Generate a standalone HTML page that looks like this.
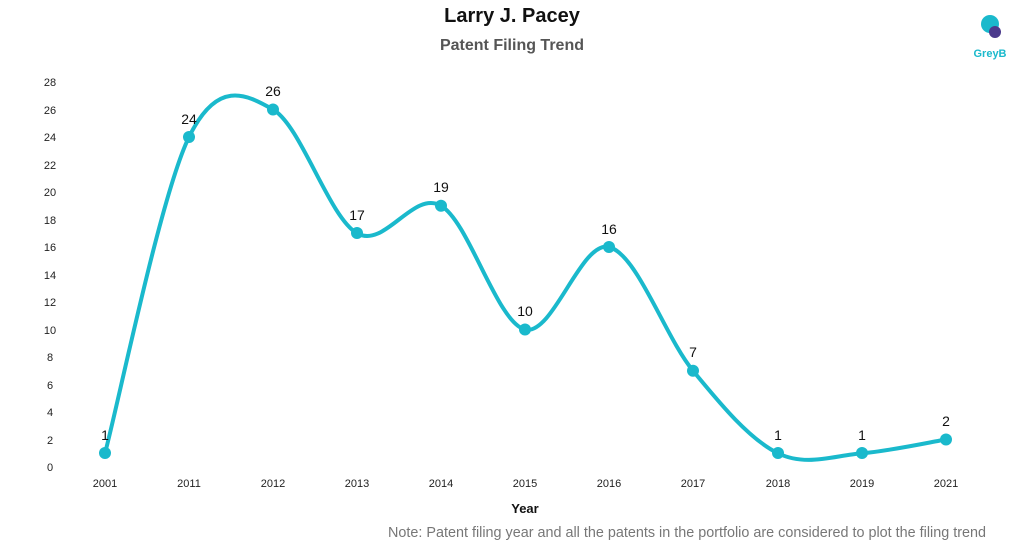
<!DOCTYPE html>
<html><head><meta charset="utf-8"><style>
body{margin:0;background:#fff;font-family:"Liberation Sans",sans-serif}
svg text{font-family:"Liberation Sans",sans-serif}
</style></head><body>
<svg width="1024" height="546" xmlns="http://www.w3.org/2000/svg">
<text x="512" y="22" text-anchor="middle" font-size="20" font-weight="bold" fill="#111">Larry J. Pacey</text>
<text x="512" y="50" text-anchor="middle" font-size="16" font-weight="bold" fill="#555">Patent Filing Trend</text>
<g>
<circle cx="990" cy="24" r="9" fill="#1ab9cc"/>
<circle cx="995" cy="32" r="6" fill="#4b3a8c"/>
<text x="990" y="57" text-anchor="middle" font-size="11" font-weight="bold" fill="#1ab9cc">GreyB</text>
</g>
<g font-size="11" fill="#222" text-anchor="middle">
<text x="50" y="471">0</text><text x="50" y="444">2</text><text x="50" y="416">4</text><text x="50" y="389">6</text><text x="50" y="361">8</text><text x="50" y="334">10</text><text x="50" y="306">12</text><text x="50" y="279">14</text><text x="50" y="251">16</text><text x="50" y="224">18</text><text x="50" y="196">20</text><text x="50" y="169">22</text><text x="50" y="141">24</text><text x="50" y="114">26</text><text x="50" y="86">28</text>
<text x="105" y="487">2001</text><text x="189" y="487">2011</text><text x="273" y="487">2012</text><text x="357" y="487">2013</text><text x="441" y="487">2014</text><text x="525" y="487">2015</text><text x="609" y="487">2016</text><text x="693" y="487">2017</text><text x="778" y="487">2018</text><text x="862" y="487">2019</text><text x="946" y="487">2021</text>
</g>
<text x="525" y="513" text-anchor="middle" font-size="13" font-weight="bold" fill="#111">Year</text>
<path id="ln" fill="none" stroke="#1ab9cc" stroke-width="4"/>
<g fill="#1ab9cc">
<circle cx="105" cy="453" r="6"/><circle cx="189" cy="137" r="6"/><circle cx="273" cy="109.5" r="6"/><circle cx="357" cy="233" r="6"/><circle cx="441" cy="205.7" r="6"/><circle cx="525" cy="329.5" r="6"/><circle cx="609" cy="247" r="6"/><circle cx="693" cy="370.7" r="6"/><circle cx="778" cy="453" r="6"/><circle cx="862" cy="453" r="6"/><circle cx="946" cy="439.5" r="6"/>
</g>
<g font-size="14" fill="#111" text-anchor="middle">
<text x="105" y="440">1</text><text x="189" y="124">24</text><text x="273" y="96">26</text><text x="357" y="220">17</text><text x="441" y="192">19</text><text x="525" y="316">10</text><text x="609" y="234">16</text><text x="693" y="357">7</text><text x="778" y="440">1</text><text x="862" y="440">1</text><text x="946" y="426">2</text>
</g>
<text x="388" y="537" font-size="14.5" fill="#777" textLength="598" lengthAdjust="spacingAndGlyphs">Note: Patent filing year and all the patents in the portfolio are considered to plot the filing trend</text>
</svg>
<script>
var xs=[105,189,273,357,441,525,609,693,778,862,946],vs=[1,24,26,17,19,10,16,7,1,1,2];
var p=xs.map(function(x,i){return [x,467-13.75*vs[i]]});
var d="M"+p[0][0]+","+p[0][1];
for(var i=0;i<p.length-1;i++){var a=p[Math.max(i-1,0)],b=p[i],c=p[i+1],e=p[Math.min(i+2,p.length-1)];
d+=" C"+(b[0]+(c[0]-a[0])/6)+","+(b[1]+(c[1]-a[1])/6)+" "+(c[0]-(e[0]-b[0])/6)+","+(c[1]-(e[1]-b[1])/6)+" "+c[0]+","+c[1];}
document.getElementById("ln").setAttribute("d",d);
</script>
</body></html>
